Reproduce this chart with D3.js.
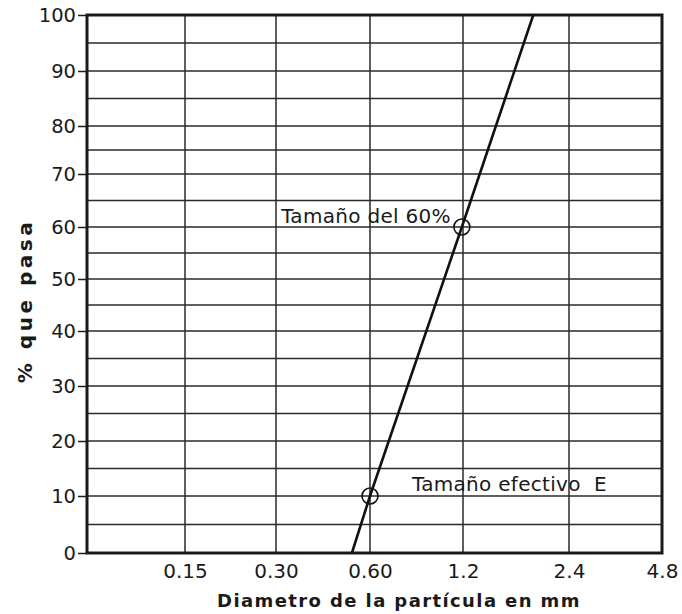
<!DOCTYPE html>
<html>
<head>
<meta charset="utf-8">
<script src="https://cdn.jsdelivr.net/npm/d3@7"></script>
<style>
  html, body { margin: 0; padding: 0; background: #fff; }
  svg { display: block; }
  text { font-family: "DejaVu Sans", sans-serif; fill: #1a1a1a; }
</style>
</head>
<body>
<svg id="chart" width="682" height="614"></svg>
<script>
// Grain-size curve: particle diameter (mm, log scale) vs percent passing
const sizeTicks = [0.15, 0.30, 0.60, 1.2, 2.4, 4.8];
const sizeTickLabels = ["0.15", "0.30", "0.60", "1.2", "2.4", "4.8"];
const passTicks = [0, 10, 20, 30, 40, 50, 60, 70, 80, 90, 100];
const passMinor = [5, 15, 25, 35, 45, 55, 65, 75, 85, 95];

// Gradation line
const curveSize = [0.525, 0.60, 1.19, 1.90];
const curvePass = [0, 10, 60, 100];

// Marked points: effective size (D10) and 60% size (D60)
const markSize = [0.60, 1.19];
const markPass = [10, 60];
const markLabels = ["Tamaño efectivo  E", "Tamaño del 60%"];

(function draw() {
  const svg = d3.select("#chart");

  // Hand-ruled paper: each doubling / each 10% band has its own width
  const x = d3.scaleLog()
    .domain([0.075, 0.15, 0.30, 0.60, 1.2, 2.4, 4.8])
    .range([87, 185, 276, 370, 463, 569, 662]);
  const y = d3.scaleLinear()
    .domain(passTicks)
    .range([553, 496, 441, 386, 331, 279, 227, 174, 126, 71, 15]);

  const xr = x.range();
  const plotLeft = xr[0], plotRight = xr[xr.length - 1];
  const plotBottom = y(0), plotTop = y(100);

  // Horizontal grid (every 5%)
  const g = svg.append("g");
  g.selectAll("line.h")
    .data(passTicks.concat(passMinor).filter(d => d > 0 && d < 100))
    .join("line")
    .attr("class", "h")
    .attr("x1", plotLeft).attr("x2", plotRight)
    .attr("y1", d => y(d)).attr("y2", d => y(d))
    .attr("stroke", "#2a2a2a").attr("stroke-width", 1.5);

  // Vertical grid at each size
  g.selectAll("line.v")
    .data(sizeTicks.slice(0, -1))
    .join("line")
    .attr("class", "v")
    .attr("x1", d => x(d)).attr("x2", d => x(d))
    .attr("y1", plotTop).attr("y2", plotBottom)
    .attr("stroke", "#2a2a2a").attr("stroke-width", 1.5);

  // Frame
  svg.append("rect")
    .attr("x", plotLeft).attr("y", plotTop)
    .attr("width", plotRight - plotLeft).attr("height", plotBottom - plotTop)
    .attr("fill", "none").attr("stroke", "#1a1a1a").attr("stroke-width", 3);

  // Y axis
  const yAxis = d3.axisLeft(y).tickValues(passTicks).tickSize(9).tickPadding(2).tickFormat(d3.format("d"));
  svg.append("g")
    .attr("transform", `translate(${plotLeft},0)`)
    .call(yAxis)
    .call(a => a.select(".domain").remove())
    .call(a => a.selectAll("line").attr("stroke", "#1a1a1a").attr("stroke-width", 1.5))
    .call(a => a.selectAll("text").attr("font-size", 19.5).attr("font-family", "DejaVu Sans").attr("fill", "#1a1a1a"));

  // X axis
  const xAxis = d3.axisBottom(x).tickValues(sizeTicks).tickSize(0).tickPadding(11)
    .tickFormat((d, i) => sizeTickLabels[i]);
  svg.append("g")
    .attr("transform", `translate(0,${plotBottom})`)
    .call(xAxis)
    .call(a => a.select(".domain").remove())
    .call(a => a.selectAll("text").attr("font-size", 20).attr("font-family", "DejaVu Sans").attr("fill", "#1a1a1a"));

  // Axis titles
  svg.append("text")
    .attr("x", 399).attr("y", 607)
    .attr("text-anchor", "middle")
    .attr("font-size", 18).attr("font-weight", "bold")
    .attr("letter-spacing", 1.4)
    .text("Diametro de la partícula en mm");

  svg.append("text")
    .attr("transform", "translate(32,301) rotate(-90)")
    .attr("text-anchor", "middle")
    .attr("font-size", 20).attr("font-weight", "bold")
    .attr("letter-spacing", 3.5)
    .text("% que pasa");

  // Gradation line
  const line = d3.line().x(d => x(d[0])).y(d => y(d[1]));
  svg.append("path")
    .datum(curveSize.map((s, i) => [s, curvePass[i]]))
    .attr("d", line)
    .attr("fill", "none")
    .attr("stroke", "#111")
    .attr("stroke-width", 2.6);

  // Marker circles
  svg.selectAll("circle.mark")
    .data(markSize.map((s, i) => [s, markPass[i]]))
    .join("circle")
    .attr("class", "mark")
    .attr("cx", d => x(d[0])).attr("cy", d => y(d[1]))
    .attr("r", 8)
    .attr("fill", "none").attr("stroke", "#111").attr("stroke-width", 1.6);

  // Annotations
  svg.append("text")
    .attr("x", x(markSize[1]) - 11).attr("y", y(markPass[1]) - 4)
    .attr("text-anchor", "end")
    .attr("font-size", 20)
    .attr("letter-spacing", 0.3)
    .text(markLabels[1]);

  svg.append("text")
    .attr("x", 412).attr("y", y(markPass[0]) - 5)
    .attr("font-size", 20)
    .attr("letter-spacing", 0.3)
    .style("white-space", "pre")
    .text(markLabels[0]);
})();
</script>
</body>
</html>
